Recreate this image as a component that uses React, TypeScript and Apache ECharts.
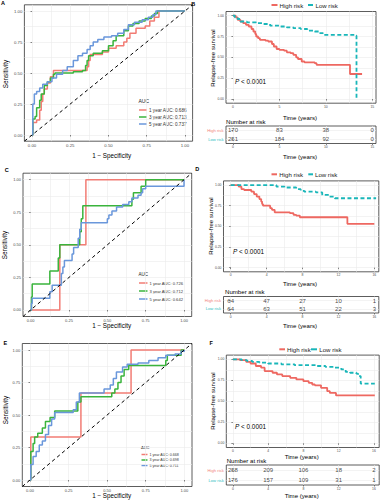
import React, { useEffect, useRef } from "react";
import * as echarts from "echarts";

const FONT = "'Liberation Sans', Arial, Helvetica, sans-serif";

// ---------- ROC data: [1 - specificity, sensitivity] ----------
const rocA_1y = [[0,0],[0.005,0.1],[0.03,0.12],[0.05,0.2],[0.06,0.27],[0.07,0.33],[0.08,0.37],[0.1,0.42],[0.12,0.47],[0.14,0.52],[0.36,0.55],[0.37,0.6],[0.38,0.65],[0.46,0.67],[0.5,0.7],[0.55,0.72],[0.6,0.75],[0.62,0.78],[0.64,0.82],[0.68,0.86],[0.74,0.88],[0.77,0.92],[0.8,0.95],[0.83,1],[1,1]];
const rocA_3y = [[0,0],[0.005,0.13],[0.02,0.15],[0.03,0.22],[0.05,0.28],[0.06,0.33],[0.08,0.4],[0.1,0.43],[0.12,0.46],[0.14,0.49],[0.15,0.5],[0.27,0.51],[0.33,0.52],[0.35,0.56],[0.36,0.6],[0.37,0.64],[0.4,0.66],[0.46,0.68],[0.5,0.72],[0.53,0.76],[0.55,0.8],[0.6,0.84],[0.63,0.88],[0.66,0.9],[0.7,0.92],[0.74,0.94],[0.78,0.96],[0.8,0.98],[0.82,1],[1,1]];
const rocA_5y = [[0,0],[0.005,0.25],[0.015,0.33],[0.03,0.35],[0.05,0.38],[0.07,0.41],[0.1,0.43],[0.13,0.46],[0.16,0.49],[0.2,0.52],[0.23,0.55],[0.27,0.6],[0.3,0.64],[0.33,0.66],[0.36,0.69],[0.38,0.72],[0.4,0.75],[0.43,0.77],[0.47,0.79],[0.52,0.8],[0.56,0.82],[0.6,0.85],[0.63,0.89],[0.67,0.91],[0.72,0.93],[0.76,0.95],[0.79,0.97],[0.81,1],[1,1]];

const rocC_1y = [[0,0],[0.19,0.5],[0.36,1],[1,1]];
const rocC_3y = [[0,0],[0.005,0.1],[0.01,0.2],[0.125,0.3],[0.18,0.4],[0.19,0.5],[0.32,0.6],[0.33,0.7],[0.34,0.8],[0.66,0.85],[0.67,0.9],[0.72,0.95],[0.75,1],[1,1]];
const rocC_5y = [[0,0],[0.005,0.05],[0.01,0.09],[0.125,0.14],[0.14,0.19],[0.2,0.28],[0.21,0.33],[0.22,0.38],[0.27,0.43],[0.28,0.48],[0.31,0.55],[0.32,0.62],[0.33,0.67],[0.5,0.7],[0.51,0.73],[0.53,0.76],[0.56,0.79],[0.6,0.81],[0.64,0.83],[0.66,0.86],[0.7,0.88],[0.72,0.9],[0.73,0.93],[0.75,0.95],[1,1]];

const rocE_1y = [[0,0],[0.005,0.33],[0.33,0.67],[0.655,1],[1,1]];
const rocE_3y = [[0,0],[0.005,0.22],[0.02,0.28],[0.03,0.33],[0.05,0.36],[0.08,0.4],[0.1,0.45],[0.13,0.48],[0.16,0.53],[0.31,0.6],[0.33,0.64],[0.53,0.67],[0.55,0.7],[0.57,0.75],[0.59,0.8],[0.61,0.85],[0.64,0.88],[0.88,0.92],[0.89,0.96],[0.98,1],[1,1]];
const rocE_5y = [[0,0],[0.005,0.12],[0.02,0.18],[0.04,0.22],[0.06,0.27],[0.08,0.3],[0.1,0.35],[0.12,0.42],[0.14,0.47],[0.16,0.52],[0.28,0.54],[0.3,0.6],[0.32,0.67],[0.48,0.7],[0.52,0.73],[0.54,0.78],[0.56,0.83],[0.6,0.87],[0.63,0.89],[0.7,0.9],[0.77,0.92],[0.83,0.94],[0.88,0.96],[0.94,0.97],[0.98,0.99],[1,1]];

const aucA = ["1 year AUC: 0.686", "3 year AUC: 0.713", "5 year AUC: 0.737"];
const aucC = ["1 year AUC: 0.726", "3 year AUC: 0.712", "5 year AUC: 0.642"];
const aucE = ["1 year AUC: 0.668", "3 year AUC: 0.698", "5 year AUC: 0.711"];

const rocTicks = [0, 0.25, 0.5, 0.75, 1];
const rocMinor = [0.125, 0.375, 0.625, 0.875];
const diagonal = [[-0.05, -0.05], [1.05, 1.05]];

// ---------- Kaplan-Meier data: [time (years), survival] ----------
const kmB_high = [[0,1],[0.3,0.98],[0.5,0.95],[0.8,0.93],[1.1,0.91],[1.4,0.89],[1.7,0.87],[2,0.84],[2.2,0.81],[2.4,0.78],[2.5,0.75],[2.7,0.73],[2.9,0.71],[3.5,0.7],[3.8,0.69],[4.2,0.66],[4.4,0.63],[4.7,0.6],[5,0.59],[5.5,0.58],[5.8,0.56],[6.2,0.55],[6.5,0.53],[6.8,0.5],[7,0.48],[7.4,0.45],[7.7,0.44],[8.8,0.43],[9,0.41],[12.6,0.3],[13.9,0.3]];
const kmB_low = [[0,1],[0.2,0.98],[0.5,0.96],[0.8,0.93],[1.5,0.92],[2.5,0.91],[3.2,0.9],[4,0.88],[5,0.87],[5.8,0.86],[6.5,0.85],[7.3,0.84],[8,0.82],[8.8,0.81],[9.3,0.79],[9.7,0.77],[13.2,0.76],[13.3,0]];
const kmD_high = [[0,1],[0.9,0.98],[1.2,0.95],[1.5,0.94],[2.3,0.92],[2.6,0.89],[2.9,0.86],[3.2,0.83],[3.4,0.8],[3.5,0.77],[3.6,0.75],[4.4,0.72],[4.6,0.7],[4.9,0.67],[6.6,0.66],[7,0.64],[7.3,0.63],[7.7,0.61],[13,0.53],[16,0.53]];
const kmD_low = [[0,1],[5.1,0.98],[6,0.97],[7.3,0.95],[7.8,0.93],[8.2,0.92],[9.5,0.91],[10.2,0.88],[11,0.86],[11.6,0.84],[16.2,0.84]];
const kmF_high = [[0,1],[0.8,0.99],[1.5,0.97],[2,0.95],[2.6,0.92],[3.2,0.9],[3.6,0.86],[4.5,0.84],[5,0.82],[5.6,0.8],[6.5,0.78],[7.2,0.76],[8,0.74],[8.6,0.72],[9,0.7],[9.3,0.69],[10,0.66],[10.7,0.62],[11,0.6],[11.7,0.57],[16.1,0.57]];
const kmF_low = [[0,1],[1,0.99],[1.6,0.98],[2.2,0.97],[3,0.96],[4,0.95],[5.5,0.94],[7,0.93],[9.5,0.92],[10.5,0.91],[11.5,0.9],[12.3,0.88],[12.8,0.85],[13.3,0.84],[14,0.83],[14.2,0.8],[14.5,0.71],[16.1,0.71]];

const groups = ["High risk", "Low risk"];
const survTicks = [0, 0.25, 0.5, 0.75, 1];
const survMinor = [0.125, 0.375, 0.625, 0.875];

const timeTicksB = [0, 5, 10, 15];
const timeMinorB = [2.5, 7.5, 12.5];
const riskB_high = [170, 83, 38, 0];
const riskB_low = [251, 184, 92, 0];

const timeTicksD = [0, 4, 8, 12, 16];
const timeMinorD = [2, 6, 10, 14];
const riskD_high = [64, 47, 27, 10, 1];
const riskD_low = [64, 63, 51, 22, 3];

const timeTicksF = [0, 4, 8, 12, 16];
const timeMinorF = [2, 6, 10, 14];
const riskF_high = [258, 209, 106, 18, 2];
const riskF_low = [176, 157, 109, 31, 1];

// ---------- styles ----------
const ROC_COLORS = ["#F27C74", "#3AB43C", "#6A97DB"];
const KM_RED = "#EE6861";
const KM_CYAN = "#19B6B9";
const TAB_RED = "#F27F79";
const TAB_CYAN = "#2FC0C2";

function buildOption() {
  const grid: any[] = [];
  const xAxis: any[] = [];
  const yAxis: any[] = [];
  const series: any[] = [];
  const graphic: any[] = [];

  const addGrid = (b: any) => {
    grid.push({ ...b, show: true, borderColor: "#333333", borderWidth: 0.8, backgroundColor: "#ffffff", containLabel: false, outerBoundsMode: "none" });
    return grid.length - 1;
  };

  const addAxes = (list: any[], gi: number, pos: string, min: number, max: number, major: number[], minor: number[], fmt: any, lab: any, extra: any = {}) => {
    const idx = list.length;
    list.push({
      type: "value", gridIndex: gi, position: pos, min, max, ...extra,
      axisLine: { show: false },
      axisTick: { show: false, customValues: [...major, ...minor] },
      axisLabel: { show: false },
      splitLine: { show: true, lineStyle: { color: "#EBEBEB", width: 0.6 } },
    });
    list.push({
      type: "value", gridIndex: gi, position: pos, min, max, ...extra,
      axisLine: { show: false },
      axisTick: { show: true, customValues: major, length: 1.5, lineStyle: { color: "#333333", width: 0.6 } },
      axisLabel: { customValues: major, formatter: fmt, fontFamily: FONT, color: "#4D4D4D", ...lab },
      splitLine: { show: false },
    });
    return idx;
  };

  const text = (x: number, y: number, str: string, size: number, o: any = {}) => {
    graphic.push({
      type: "text", x, y, rotation: o.rot || 0, silent: true,
      style: { text: str, fontSize: size, fontFamily: FONT, fill: o.color || "#000", align: o.align || "left", verticalAlign: o.va || "middle", fontWeight: o.weight || "normal", fontStyle: o.style || "normal", rich: o.rich },
    });
  };
  const seg = (x1: number, x2: number, y: number, color: string, w: number, dash?: number[]) => {
    graphic.push({ type: "line", silent: true, shape: { x1, y1: y, x2, y2: y }, style: { stroke: color, lineWidth: w, lineDash: dash } });
  };

  const fmt2 = (v: number) => v.toFixed(2);
  const fmtInt = (v: number) => String(v);

  // ---------- ROC panels ----------
  const rocPanel = (box: any, curves: number[][][], labels: string[], tickSize: number, leg: any, titles: any, letter: any) => {
    const gi = addGrid(box);
    const xi = addAxes(xAxis, gi, "bottom", -0.05, 1.05, rocTicks, rocMinor, fmt2, { fontSize: tickSize, margin: 2 });
    const yi = addAxes(yAxis, gi, "left", -0.05, 1.05, rocTicks, rocMinor, fmt2, { fontSize: tickSize, margin: 2 });
    curves.forEach((d, i) => {
      series.push({ type: "line", name: labels[i], xAxisIndex: xi, yAxisIndex: yi, data: d, step: "end", symbol: "none", silent: true, lineStyle: { color: ROC_COLORS[i], width: 1.5 }, z: 2 });
    });
    series.push({ type: "line", xAxisIndex: xi, yAxisIndex: yi, data: diagonal, symbol: "none", silent: true, lineStyle: { color: "#000", width: 1, type: [3.5, 3] }, z: 3 });
    // legend
    text(leg.x, leg.titleY, "AUC", leg.size + 0.4, { color: "#222" });
    leg.rows.forEach((ry: number, i: number) => {
      seg(leg.x + 0.5, leg.x + leg.keyW, ry, ROC_COLORS[i], 1.5);
      text(leg.x + leg.keyW + 2, ry, labels[i], leg.size, { color: "#333" });
    });
    text(titles.xx, titles.xy, "1 \u2212 Specificity", 6.3, { align: "center" });
    text(titles.yx, titles.yy, "Sensitivity", 6.3, { align: "center", rot: Math.PI / 2 });
    text(letter.x, letter.y, letter.t, 5.5, { weight: "bold", align: "center" });
  };

  rocPanel({ left: 24.4, top: 4.8, width: 168.2, height: 136.4 }, [rocA_1y, rocA_3y, rocA_5y], aucA, 4.3,
    { x: 138.5, titleY: 101, rows: [110, 117, 124], keyW: 8.5, size: 4.6 },
    { xx: 111.7, xy: 155.5, yx: 5.5, yy: 74 }, { x: 3, y: 3, t: "A" });
  rocPanel({ left: 23, top: 173.2, width: 168.7, height: 143.3 }, [rocC_1y, rocC_3y, rocC_5y], aucC, 4.0,
    { x: 138.5, titleY: 274, rows: [283, 291, 299], keyW: 9, size: 4.1 },
    { xx: 111.7, xy: 325.7, yx: 4.5, yy: 245 }, { x: 6.7, y: 170, t: "C" });
  rocPanel({ left: 22.3, top: 343.5, width: 169.7, height: 143 }, [rocE_1y, rocE_3y, rocE_5y], aucE, 4.0,
    { x: 141, titleY: 447, rows: [454.5, 460, 465.5], keyW: 6.5, size: 3.6 },
    { xx: 111.7, xy: 495, yx: 5, yy: 410 }, { x: 5.3, y: 343.3, t: "E" });

  // ---------- KM panels ----------
  const kmPanel = (cfg: any) => {
    const gi = addGrid(cfg.box);
    const xi = addAxes(xAxis, gi, "bottom", cfg.xmin, cfg.xmax, cfg.ticks, cfg.minor, fmtInt, { fontSize: 3.4, margin: 2 });
    const yi = addAxes(yAxis, gi, "left", -0.05, 1.05, survTicks, survMinor, fmt2, { fontSize: 3.4, margin: 2 });
    series.push({ type: "line", name: groups[0], xAxisIndex: xi, yAxisIndex: yi, data: cfg.high, step: "end", symbol: "none", silent: true, lineStyle: { color: KM_RED, width: 1.8 }, z: 2 });
    series.push({ type: "line", name: groups[1], xAxisIndex: xi, yAxisIndex: yi, data: cfg.low, step: "end", symbol: "none", silent: true, lineStyle: { color: KM_CYAN, width: 1.8, type: [4, 2.5] }, z: 3 });

    // risk table
    const ti = addGrid(cfg.tbox);
    const txi = addAxes(xAxis, ti, "bottom", cfg.xmin, cfg.xmax, cfg.ticks, [], fmtInt, { fontSize: 3.4, margin: 2 });
    const tyi = addAxes(yAxis, ti, "left", 0.5, 2.5, [1, 2], [],
      (v: number) => (v === 1 ? "{h|" + groups[0] + "}" : "{l|" + groups[1] + "}"),
      { margin: 2.5, rich: { h: { color: TAB_RED, fontSize: 4.2, fontFamily: FONT }, l: { color: TAB_CYAN, fontSize: 4.2, fontFamily: FONT } } },
      { inverse: true });
    const pts: any[] = [];
    cfg.ticks.forEach((t: number, i: number) => {
      pts.push([t, 1, cfg.nHigh[i]]);
      pts.push([t, 2, cfg.nLow[i]]);
    });
    series.push({
      type: "scatter", xAxisIndex: txi, yAxisIndex: tyi, data: pts, symbolSize: 1, silent: true,
      itemStyle: { color: "rgba(0,0,0,0)" },
      label: { show: true, position: "inside", formatter: (p: any) => String(p.value[2]), fontSize: 6, fontFamily: FONT, color: "#111" },
    });

    // legend
    const lg = cfg.legend;
    seg(lg.r1, lg.r2, lg.y, KM_RED, 2);
    text(lg.t1, lg.y, groups[0], 6.1, { color: "#222" });
    seg(lg.c1, lg.c2, lg.y, KM_CYAN, 2);
    text(lg.t2, lg.y, groups[1], 6.1, { color: "#222" });

    text(cfg.ylab.x, cfg.ylab.y, "Relapse-free survival", 6.1, { align: "center", rot: Math.PI / 2 });
    text(cfg.xc, cfg.xt1, "Time (years)", 6.1, { align: "center" });
    text(cfg.xc, cfg.xt2, "Time (years)", 6.1, { align: "center" });
    text(cfg.nar.x, cfg.nar.y, "Number at risk", 6.1);
    text(cfg.p.x, cfg.p.y, "{i|P} < 0.0001", 6.4, { rich: { i: { fontStyle: "italic", fontSize: 6.4, fontFamily: FONT, fill: "#000" } } });
    text(cfg.letter.x, cfg.letter.y, cfg.letter.t, 5.5, { weight: "bold", align: "center" });
  };

  kmPanel({
    box: { left: 226, top: 11.5, width: 150, height: 91.7 }, tbox: { left: 226, top: 126, width: 150, height: 17.5 },
    xmin: -0.75, xmax: 15.4, ticks: timeTicksB, minor: timeMinorB, high: kmB_high, low: kmB_low, nHigh: riskB_high, nLow: riskB_low,
    legend: { y: 5, r1: 271.5, r2: 277.5, t1: 279.5, c1: 308, c2: 313, t2: 315.5 },
    ylab: { x: 212.5, y: 58 }, xc: 300, xt1: 117.5, xt2: 156.5, nar: { x: 226, y: 121 }, p: { x: 235, y: 81 },
    letter: { x: 193.2, y: 3.7, t: "B" },
  });
  kmPanel({
    box: { left: 223.5, top: 180.9, width: 155.3, height: 90.9 }, tbox: { left: 223.5, top: 296.5, width: 155.3, height: 16.5 },
    xmin: -0.8, xmax: 16.5, ticks: timeTicksD, minor: timeMinorD, high: kmD_high, low: kmD_low, nHigh: riskD_high, nLow: riskD_low,
    legend: { y: 174.3, r1: 271.5, r2: 277, t1: 279.3, c1: 308.3, c2: 313, t2: 315 },
    ylab: { x: 210.7, y: 226 }, xc: 300, xt1: 283.3, xt2: 325, nar: { x: 225, y: 291.7 }, p: { x: 233, y: 251.7 },
    letter: { x: 197.3, y: 168.7, t: "D" },
  });
  kmPanel({
    box: { left: 226.3, top: 355.1, width: 152.9, height: 92.4 }, tbox: { left: 226.3, top: 465, width: 152.9, height: 20 },
    xmin: -0.75, xmax: 16.6, ticks: timeTicksF, minor: timeMinorF, high: kmF_high, low: kmF_low, nHigh: riskF_high, nLow: riskF_low,
    legend: { y: 349.3, r1: 279.3, r2: 285, t1: 287, c1: 311, c2: 317, t2: 319.3 },
    ylab: { x: 212.7, y: 401 }, xc: 301.7, xt1: 456.5, xt2: 495, nar: { x: 226.7, y: 460 }, p: { x: 235, y: 426.7 },
    letter: { x: 211.3, y: 343.3, t: "F" },
  });

  return {
    animation: false,
    backgroundColor: "#ffffff",
    textStyle: { fontFamily: FONT },
    grid, xAxis, yAxis, series, graphic,
  };
}

export default function App() {
  const ref = useRef<HTMLDivElement>(null);
  useEffect(() => {
    document.body.style.margin = "0";
    const chart = echarts.init(ref.current as HTMLDivElement, null, { renderer: "svg", width: 381, height: 500 });
    chart.setOption(buildOption() as any);
    return () => chart.dispose();
  }, []);
  return <div ref={ref} style={{ width: 381, height: 500, background: "#fff" }} />;
}
